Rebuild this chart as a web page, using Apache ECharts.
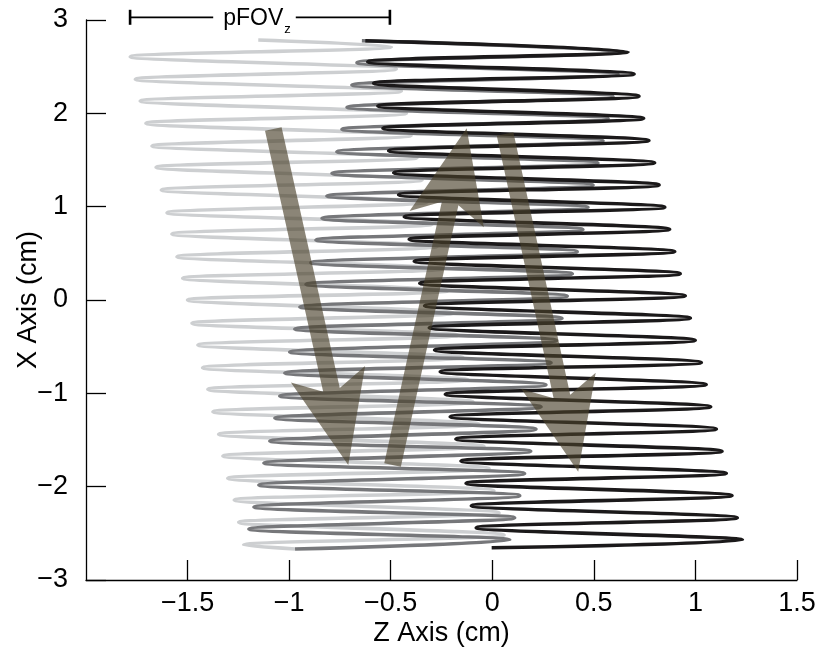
<!DOCTYPE html>
<html>
<head>
<meta charset="utf-8">
<script src="https://cdn.jsdelivr.net/npm/echarts@6/dist/echarts.min.js"></script>
<style>
  html, body { margin: 0; padding: 0; background: #ffffff; }
  #chart { width: 816px; height: 647px; }
</style>
</head>
<body>
<div id="chart"></div>
<script>
// Turning points of the excitation path (Z, X in cm), listed in travel order.
// Pass 1: travels down (light gray)
const pass1Z = [-1.152,
  -0.497, -1.782, -0.473, -1.757, -0.448, -1.733, -0.423, -1.705, -0.400, -1.675,
  -0.371, -1.655, -0.346, -1.629, -0.321, -1.601, -0.297, -1.577, -0.272, -1.552,
  -0.243, -1.524, -0.218, -1.500, -0.193, -1.478, -0.169, -1.449, -0.144, -1.426,
  -0.120, -1.400, -0.095, -1.375, -0.066, -1.347, -0.041, -1.326, -0.016, -1.302,
  0.008, -1.270, 0.033, -1.248, 0.058, -1.224,
  -0.971];
const pass1X = [2.786,
  2.714, 2.607, 2.476, 2.365, 2.238, 2.132, 2.000, 1.893, 1.762, 1.650,
  1.525, 1.422, 1.287, 1.179, 1.049, 0.935, 0.811, 0.707, 0.573, 0.464,
  0.335, 0.233, 0.098, 0.000, -0.140, -0.250, -0.378, -0.482, -0.616, -0.725,
  -0.854, -0.957, -1.092, -1.197, -1.330, -1.439, -1.568, -1.671, -1.805, -1.910,
  -2.043, -2.143, -2.281, -2.382, -2.519, -2.625,
  -2.668];

// Pass 2: travels up (mid gray)
const pass2Z = [-0.971,
  0.086, -1.198, 0.110, -1.173, 0.135, -1.149, 0.159, -1.124, 0.189, -1.095,
  0.215, -1.070, 0.240, -1.046, 0.264, -1.021, 0.289, -0.997, 0.316, -0.972,
  0.343, -0.947, 0.369, -0.917, 0.394, -0.893, 0.418, -0.868, 0.446, -0.838,
  0.471, -0.814, 0.496, -0.789, 0.520, -0.765, 0.545, -0.740, 0.570, -0.715,
  0.594, -0.691, 0.619, -0.666, 0.643,
  -0.642];
const pass2X = [-2.668,
  -2.571, -2.454, -2.334, -2.218, -2.096, -1.982, -1.859, -1.746, -1.621, -1.511,
  -1.383, -1.264, -1.145, -1.029, -0.908, -0.782, -0.671, -0.557, -0.433, -0.311,
  -0.195, -0.075, 0.043, 0.168, 0.280, 0.400, 0.518, 0.643, 0.755, 0.875,
  0.993, 1.114, 1.231, 1.357, 1.469, 1.589, 1.706, 1.829, 1.943, 2.065,
  2.181, 2.304, 2.419, 2.543, 2.657,
  2.778];

// Pass 3: travels down again (black)
const pass3Z = [-0.625,
  0.668, -0.613, 0.698, -0.584, 0.722, -0.563, 0.745, -0.538, 0.771, -0.510,
  0.799, -0.485, 0.821, -0.461, 0.849, -0.433, 0.873, -0.409, 0.898, -0.384,
  0.925, -0.357, 0.950, -0.333, 0.975, -0.310, 0.999, -0.284, 1.029, -0.256,
  1.053, -0.231, 1.075, -0.207, 1.103, -0.179, 1.131, -0.154, 1.152, -0.129,
  1.180, -0.103, 1.206, -0.079, 1.231,
  -0.003];
const pass3X = [2.778,
  2.659, 2.553, 2.422, 2.322, 2.184, 2.079, 1.946, 1.840, 1.709, 1.600,
  1.471, 1.364, 1.233, 1.128, 0.995, 0.893, 0.758, 0.650, 0.520, 0.415,
  0.282, 0.179, 0.045, -0.061, -0.193, -0.297, -0.431, -0.536, -0.669, -0.768,
  -0.906, -1.010, -1.144, -1.250, -1.382, -1.489, -1.620, -1.725, -1.857, -1.964,
  -2.095, -2.204, -2.333, -2.440, -2.571,
  -2.654];

// Direction arrows (tail -> tip), in data units
const arrowFromZ = [-1.078, -0.491, 0.063];
const arrowFromX = [1.832, -1.768, 1.779];
const arrowToZ = [-0.709, -0.126, 0.423];
const arrowToX = [-1.768, 1.840, -1.840];

// Field-of-view bracket above the plot
const fovZ = [-1.783, -0.504];
const fovLevel = 3.029;

// Axis ticks
const zTicks = { min: -2, max: 1.5, step: 0.5 };
const xTicks = { min: -3, max: 3, step: 1 };

const FONT = '"Liberation Sans", Arial, Helvetica, sans-serif';
const LABEL_SIZE = 27;

function pairs(zs, xs) {
  return zs.map(function (z, i) { return [z, xs[i]]; });
}
function minusFmt(v) {
  if (v === 0) return '0';
  return (v < 0 ? '\u2212' : '') + String(Math.abs(v));
}
function measure(text, font) {
  const c = document.createElement('canvas').getContext('2d');
  c.font = font;
  return c.measureText(text).width;
}

const chart = echarts.init(document.getElementById('chart'), null, { renderer: 'canvas' });

const axisColor = '#000000';

const option = {
  animation: false,
  backgroundColor: '#ffffff',
  grid: { left: 86, right: 19, top: 20, bottom: 67, containLabel: false, outerBoundsMode: 'none' },
  xAxis: {
    type: 'value',
    min: zTicks.min, max: zTicks.max, interval: zTicks.step,
    name: 'Z Axis (cm)', nameLocation: 'middle', nameGap: 40, nameMoveOverlap: false,
    nameTextStyle: { fontFamily: FONT, fontSize: LABEL_SIZE, color: '#000' },
    axisLine: { show: true, onZero: false, lineStyle: { color: axisColor, width: 1.3 } },
    axisTick: { show: true, inside: true, length: 20, lineStyle: { color: axisColor, width: 1.3 } },
    axisLabel: { showMinLabel: false, margin: 10, fontFamily: FONT, fontSize: LABEL_SIZE, color: '#000', formatter: minusFmt },
    splitLine: { show: false }
  },
  yAxis: {
    type: 'value',
    min: xTicks.min, max: xTicks.max, interval: xTicks.step,
    name: 'X Axis (cm)', nameLocation: 'middle', nameGap: 44, nameRotate: 90, nameMoveOverlap: false,
    nameTextStyle: { fontFamily: FONT, fontSize: LABEL_SIZE, color: '#000' },
    axisLine: { show: true, onZero: false, lineStyle: { color: axisColor, width: 1.3 } },
    axisTick: { show: true, inside: true, length: 20, lineStyle: { color: axisColor, width: 1.3 } },
    axisLabel: { margin: 18, fontFamily: FONT, fontSize: LABEL_SIZE, color: '#000', formatter: minusFmt },
    splitLine: { show: false }
  },
  series: [
    {
      type: 'line', name: 'pass 1', data: pairs(pass1Z, pass1X),
      smooth: 0.37, symbol: 'none', silent: true, z: 2,
      lineStyle: { color: '#cdcfd1', width: 3.6 }
    },
    {
      type: 'line', name: 'pass 2', data: pairs(pass2Z, pass2X),
      smooth: 0.37, symbol: 'none', silent: true, z: 3,
      lineStyle: { color: '#76777a', width: 3.6 }
    },
    {
      type: 'line', name: 'pass 3', data: pairs(pass3Z, pass3X),
      smooth: 0.37, symbol: 'none', silent: true, z: 4,
      lineStyle: { color: '#1b191a', width: 3.6 }
    },
    {
      type: 'custom', name: 'arrows', coordinateSystem: 'cartesian2d', z: 10, silent: true,
      data: arrowFromZ.map(function (z, i) { return [z, arrowFromX[i], arrowToZ[i], arrowToX[i]]; }),
      encode: { x: [0, 2], y: [1, 3] },
      renderItem: function (params, api) {
        const a = api.coord([api.value(0), api.value(1)]);
        const b = api.coord([api.value(2), api.value(3)]);
        const dx = b[0] - a[0], dy = b[1] - a[1];
        const L = Math.hypot(dx, dy);
        const ux = dx / L, uy = dy / L, nx = -uy, ny = ux;
        const w = 8.5, headLen = 93, headHalf = 38, notch = 77;
        function pt(base, along, side) {
          return [base[0] + ux * along + nx * side, base[1] + uy * along + ny * side];
        }
        const points = [
          pt(a, 0, -w), pt(b, -notch, -w), pt(b, -headLen, -headHalf), b,
          pt(b, -headLen, headHalf), pt(b, -notch, w), pt(a, 0, w)
        ];
        return { type: 'polygon', shape: { points: points }, style: { fill: 'rgba(74,64,43,0.64)' } };
      }
    },
    {
      type: 'custom', name: 'fov', coordinateSystem: 'cartesian2d', z: 12, silent: true, clip: false,
      data: [[fovZ[0], fovZ[1], fovLevel]],
      encode: { x: [0, 1], y: 2 },
      renderItem: function (params, api) {
        const pL = api.coord([api.value(0), api.value(2)]);
        const pR = api.coord([api.value(1), api.value(2)]);
        const y = pL[1];
        const mainFont = '23px ' + FONT;
        const subFont = '13px ' + FONT;
        const wMain = measure('pFOV', mainFont);
        const wSub = measure('z', subFont);
        const total = wMain + 1 + wSub;
        const mid = (pL[0] + pR[0]) / 2 - 3;
        const tx0 = mid - total / 2;
        const tx1 = tx0 + wMain + 1;
        const stroke = { stroke: '#000', lineWidth: 1.8 };
        const cap = { stroke: '#000', lineWidth: 2.6 };
        return {
          type: 'group',
          children: [
            { type: 'line', shape: { x1: pL[0], y1: y, x2: tx0 - 10, y2: y }, style: stroke },
            { type: 'line', shape: { x1: tx1 + wSub + 5, y1: y, x2: pR[0], y2: y }, style: stroke },
            { type: 'line', shape: { x1: pL[0], y1: y - 7.5, x2: pL[0], y2: y + 7.5 }, style: cap },
            { type: 'line', shape: { x1: pR[0], y1: y - 7.5, x2: pR[0], y2: y + 7.5 }, style: cap },
            { type: 'text', style: { text: 'pFOV', x: tx0, y: y + 1, font: mainFont, fill: '#000', align: 'left', verticalAlign: 'middle' } },
            { type: 'text', style: { text: 'z', x: tx1, y: y + 12.5, font: subFont, fill: '#000', align: 'left', verticalAlign: 'middle' } }
          ]
        };
      }
    }
  ]
};

chart.setOption(option);
</script>
</body>
</html>
